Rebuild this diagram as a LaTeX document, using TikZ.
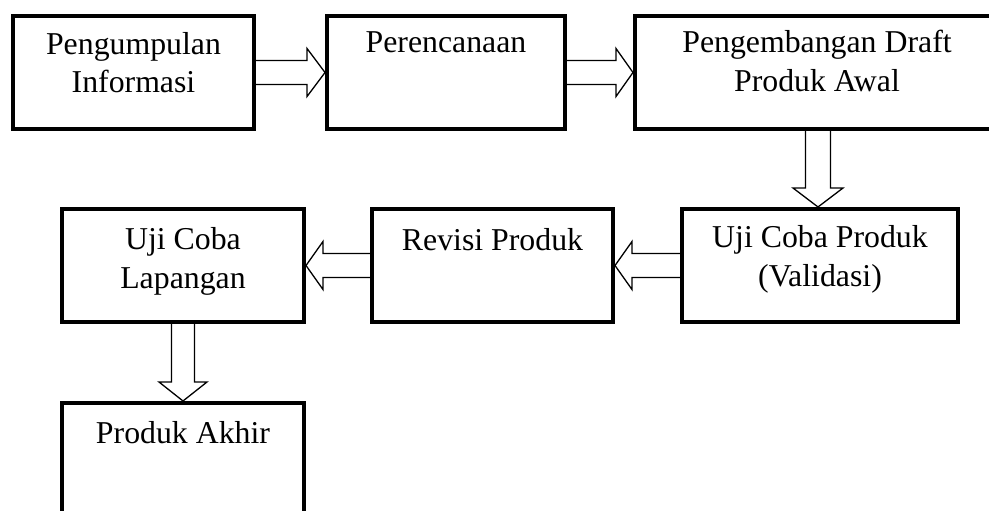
\documentclass[tikz,border=0pt]{standalone}
\usepackage{fontspec}
\setmainfont{Liberation Serif}
\usetikzlibrary{calc}
\begin{document}
\begin{tikzpicture}[x=1pt,y=-1pt,
  box/.style={draw, line width=4pt, rectangle, inner sep=0pt, minimum height=113pt},
  lbl/.style={font=\fontsize{31.8}{39}\selectfont, align=center, anchor=base, inner sep=0pt},
  blk/.style={draw, line width=1.3pt, line join=miter}]
\useasboundingbox (0,0) rectangle (989,511);
% boxes
\node[box, minimum width=241pt] (b1) at (133.5,72.5) {};
\node[box, minimum width=238pt] (b2) at (446,72.5) {};
\node[box, minimum width=366pt] (b3) at (818,72.5) {};
\node[box, minimum width=276pt] (b4) at (820,265.5) {};
\node[box, minimum width=241pt] (b5) at (492.5,265.5) {};
\node[box, minimum width=242pt] (b6) at (183,265.5) {};
\node[box, minimum width=242pt, minimum height=117pt] (b7) at (183,461.5) {};
% texts (base = baseline of last line)
\node[lbl] (t1) at (133.5,93) {Pengumpulan\\Informasi};
\node[lbl] (t2) at (446,53) {Perencanaan};
\node[lbl] (t3) at (817,92) {Pengembangan Draft\\Produk Awal};
\node[lbl] (t4) at (820,286) {Uji Coba Produk\\(Validasi)};
\node[lbl] (t5) at (492.5,250) {Revisi Produk};
\node[lbl] (t6) at (183,288) {Uji Coba\\Lapangan};
\node[lbl] (t7) at (183,443) {Produk Akhir};
% block arrows
\draw[blk] ($(b1.east)+(0,-12)$) -- ($(b1.east -| b2.west)+(-18,-12)$) -- ($(b1.east -| b2.west)+(-18,-24)$)
  -- (b1.east -| b2.west) -- ($(b1.east -| b2.west)+(-18,24)$) -- ($(b1.east -| b2.west)+(-18,12)$) -- ($(b1.east)+(0,12)$);
\draw[blk] ($(b2.east)+(0,-12)$) -- ($(b2.east -| b3.west)+(-17,-12)$) -- ($(b2.east -| b3.west)+(-17,-24)$)
  -- (b2.east -| b3.west) -- ($(b2.east -| b3.west)+(-17,24)$) -- ($(b2.east -| b3.west)+(-17,12)$) -- ($(b2.east)+(0,12)$);
\draw[blk] ($(b3.south)+(-12.5,0)$) -- ($(b3.south |- b4.north)+(-12.5,-19)$) -- ($(b3.south |- b4.north)+(-25,-19)$)
  -- (b3.south |- b4.north) -- ($(b3.south |- b4.north)+(25,-19)$) -- ($(b3.south |- b4.north)+(12.5,-19)$) -- ($(b3.south)+(12.5,0)$);
\draw[blk] ($(b4.west)+(0,-12)$) -- ($(b4.west -| b5.east)+(17,-12)$) -- ($(b4.west -| b5.east)+(17,-24)$)
  -- (b4.west -| b5.east) -- ($(b4.west -| b5.east)+(17,24)$) -- ($(b4.west -| b5.east)+(17,12)$) -- ($(b4.west)+(0,12)$);
\draw[blk] ($(b5.west)+(0,-12)$) -- ($(b5.west -| b6.east)+(17,-12)$) -- ($(b5.west -| b6.east)+(17,-24)$)
  -- (b5.west -| b6.east) -- ($(b5.west -| b6.east)+(17,24)$) -- ($(b5.west -| b6.east)+(17,12)$) -- ($(b5.west)+(0,12)$);
\draw[blk] ($(b6.south)+(-11.5,0)$) -- ($(b6.south |- b7.north)+(-11.5,-19)$) -- ($(b6.south |- b7.north)+(-24,-19)$)
  -- (b6.south |- b7.north) -- ($(b6.south |- b7.north)+(24,-19)$) -- ($(b6.south |- b7.north)+(11.5,-19)$) -- ($(b6.south)+(11.5,0)$);
\end{tikzpicture}
\end{document}
